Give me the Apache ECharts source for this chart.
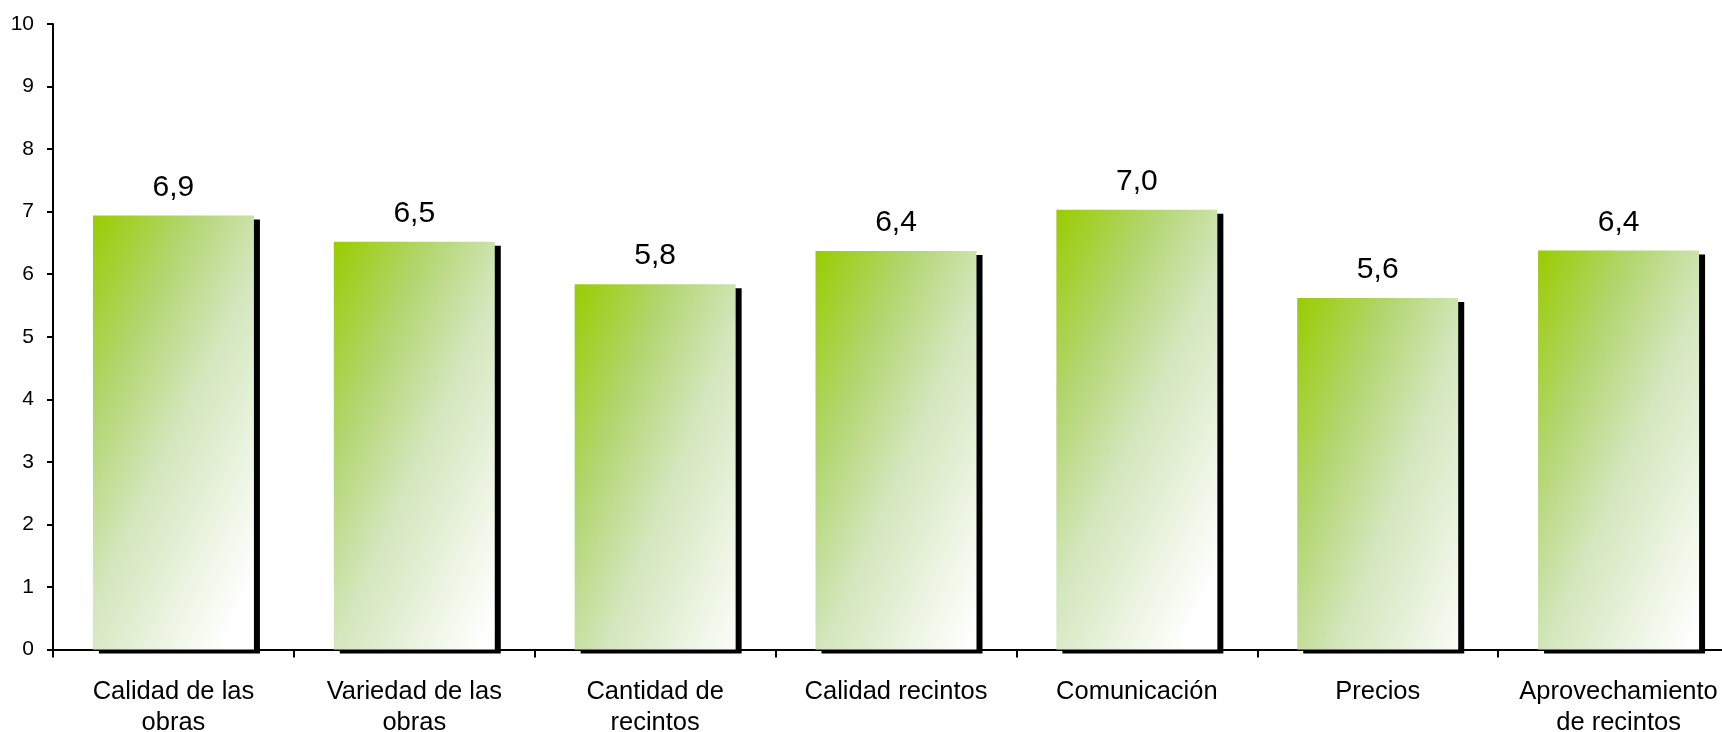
<!DOCTYPE html>
<html>
<head>
<meta charset="utf-8">
<script src="https://cdn.jsdelivr.net/npm/echarts@6/dist/echarts.min.js"></script>
<style>
  html, body { margin: 0; padding: 0; background: #ffffff; }
  #chart { width: 1722px; height: 732px; }
</style>
</head>
<body>
<div id="chart"></div>
<script>
const categories = [
  'Calidad de las\nobras',
  'Variedad de las\nobras',
  'Cantidad de\nrecintos',
  'Calidad recintos',
  'Comunicación',
  'Precios',
  'Aprovechamiento\nde recintos'
];
const values = [6.94, 6.52, 5.84, 6.37, 7.03, 5.62, 6.38];
const yTicks = { min: 0, max: 10, interval: 1 };

const FONT = '"Liberation Sans", Arial, sans-serif';

const chart = echarts.init(document.getElementById('chart'), null, { renderer: 'canvas' });

const barGradient = new echarts.graphic.LinearGradient(0, 0, 1.7, 0.3, [
  { offset: 0, color: '#99cc00' },
  { offset: 0.3, color: '#b3d672' },
  { offset: 0.55, color: '#d3e6bc' },
  { offset: 1, color: '#ffffff' }
]);

chart.setOption({
  backgroundColor: '#ffffff',
  animation: false,
  grid: {
    left: 53, width: 1686, top: 24, height: 625.5,
    containLabel: false, outerBoundsMode: 'none'
  },
  xAxis: {
    type: 'category',
    data: categories,
    boundaryGap: true,
    axisLine: { show: true, lineStyle: { color: '#000', width: 2 } },
    axisTick: { show: true, length: 8, lineStyle: { color: '#000', width: 2 } },
    axisLabel: {
      color: '#000', fontFamily: FONT, fontSize: 25.5, lineHeight: 31,
      margin: 27, interval: 0
    },
    splitLine: { show: false }
  },
  yAxis: {
    type: 'value',
    min: yTicks.min, max: yTicks.max, interval: yTicks.interval,
    axisLine: { show: true, lineStyle: { color: '#000', width: 2 } },
    axisTick: { show: true, length: 6, lineStyle: { color: '#000', width: 2 } },
    axisLabel: { color: '#000', fontFamily: FONT, fontSize: 21, margin: 19 },
    splitLine: { show: false }
  },
  series: [{
    type: 'bar',
    data: values,
    barWidth: 161,
    itemStyle: {
      color: barGradient,
      shadowColor: '#000000',
      shadowBlur: 0,
      shadowOffsetX: 6,
      shadowOffsetY: 4
    },
    label: {
      show: true,
      position: 'top',
      distance: 13,
      color: '#000',
      fontFamily: FONT,
      fontSize: 30,
      formatter: p => p.value.toFixed(1).replace('.', ',')
    }
  }]
});
</script>
</body>
</html>
